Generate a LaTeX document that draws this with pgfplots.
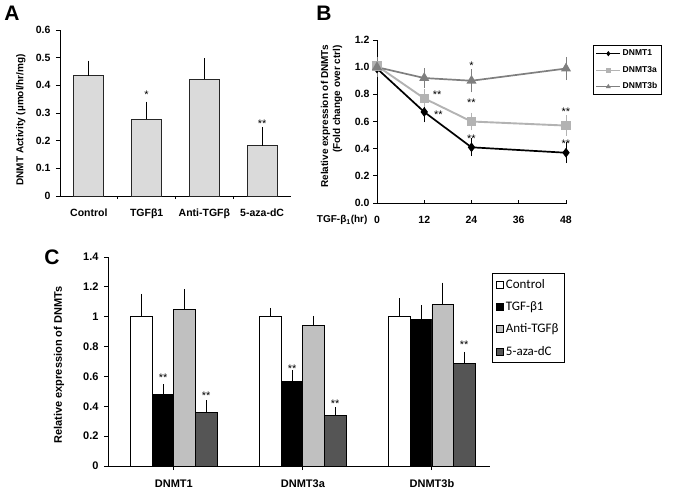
\documentclass[border=0pt]{standalone}
\usepackage{pgfplots}
\pgfplotsset{compat=1.18}
\usepackage{fontspec}
\setmainfont{Liberation Sans}
\newfontfamily\carlito{Carlito}
\definecolor{barA}{HTML}{DADADA}
\definecolor{cLight}{HTML}{C0C0C0}
\definecolor{cDark}{HTML}{555555}
\definecolor{gA}{HTML}{B3B3B3}
\definecolor{gB}{HTML}{7F7F7F}
\newcommand\fs[1]{\fontsize{#1}{#1}\selectfont}
\pgfplotsset{
 common/.style={scale only axis, anchor=south west,
   axis x line*=bottom, axis y line*=left,
   axis line style={line width=0.9pt,-},
   tick style={line width=0.9pt, black},
   major tick length=4pt, tick align=outside,
   /pgf/number format/assume math mode=true,
   tick label style={font=\fs{10.5}\bfseries},
   ylabel style={font=\fs{10}\bfseries, anchor=center},
   clip=false},
}
\begin{document}
\begin{tikzpicture}
\path[use as bounding box] (0pt,0pt) rectangle (675pt,-492pt);
% ---------------- Panel A
\begin{axis}[common, at={(60pt,-196pt)}, width=231pt, height=166pt,
  xmin=-0.5, xmax=3.5, ymin=0, ymax=0.6,
  ytick={0,0.1,0.2,0.3,0.4,0.5,0.6},
  xtick={0,1,2,3}, xticklabels={Control,TGFβ1,Anti-TGFβ,5-aza-dC},
  major x tick style={draw=none},
  minor xtick={0.5,1.5,2.5}, minor tick length=3pt,
  xticklabel style={yshift=-5pt},
  yticklabel style={xshift=-2pt},
  ylabel={DNMT Activity (µmol/hr/mg)},
  ylabel style={at={(axis description cs:-0.17,0.458)}},
  ybar, bar width=0.52,
  every axis plot/.append style={error bars/y dir=plus, error bars/y explicit,
     error bars/error bar style={line width=0.8pt, black},
     error bars/error mark options={mark size=4pt, line width=0.8pt, black}}]
\addplot[fill=barA, draw=black!85, line width=0.8pt] coordinates {
 (0,0.435) +- (0,0.040)
 (1,0.277) +- (0,0.050)
 (2,0.422) +- (0,0.061)
 (3,0.182) +- (0,0.053)};
\node[font=\fs{11}] at (axis cs:1,0.365) {*};
\node[font=\fs{11}] at (axis cs:3,0.262) {**};
\end{axis}
% ---------------- Panel B
\begin{axis}[common, at={(377pt,-203pt)}, width=189pt, height=163pt,
  xmin=0, xmax=48, ymin=0, ymax=1.2,
  xtick={0,12,24,36,48}, ytick={0,0.2,0.4,0.6,0.8,1.0,1.2},
  yticklabel style={/pgf/number format/fixed, /pgf/number format/fixed zerofill, /pgf/number format/precision=1},
  major x tick style={yshift=3pt}, xticklabel style={yshift=-6pt},
  ylabel={Relative expression of DNMTs\\(Fold change over ctrl)},
  ylabel style={align=right, font=\fontsize{10}{12}\selectfont\bfseries, at={(axis description cs:-0.24,0.531)}},
  legend style={at={(1,0.969)}, xshift=27pt, anchor=north west, draw=black, line width=0.9pt,
     font=\fs{8.5}\bfseries, inner sep=2.5pt, row sep=5pt, cells={anchor=west}},
  legend image code/.code={\draw[mark repeat=2,mark phase=2,#1] plot coordinates {(0pt,0pt) (12pt,0pt) (24pt,0pt)};},
  legend image post style={mark size=2pt, line width=0.8pt},
  every axis plot/.append style={error bars/y dir=both, error bars/y explicit,
     error bars/error bar style={line width=0.9pt},
     error bars/error mark options={mark size=3.5pt, line width=0.9pt}}]
\addplot[black, line width=1.7pt, mark=diamond*, mark size=3.5pt] coordinates {
 (0,0.99) +- (0,0.04) (12,0.67) +- (0,0.05) (24,0.41) +- (0,0.04) (48,0.37) +- (0,0.05)};
\addlegendentry{DNMT1}
\addplot[gA, line width=1.9pt, mark=square*, mark size=3.8pt] coordinates {
 (0,1.01) +- (0,0.04) (12,0.77) +- (0,0.04) (24,0.60) +- (0,0.04) (48,0.57) +- (0,0.05)};
\addlegendentry{DNMT3a}
\addplot[gB, line width=1.7pt, mark=triangle*, mark size=4.2pt] coordinates {
 (0,1.00) +- (0,0.05) (12,0.92) +- (0,0.045) (24,0.90) +- (0,0.06) (48,0.99) +- (0,0.06)};
\addlegendentry{DNMT3b}
\node[font=\fs{11}] at (axis cs:15.3,0.80) {**};
\node[font=\fs{11}] at (axis cs:15.6,0.65) {**};
\node[font=\fs{11}] at (axis cs:24,1.01) {*};
\node[font=\fs{11}] at (axis cs:24,0.74) {**};
\node[font=\fs{11}] at (axis cs:24,0.47) {**};
\node[font=\fs{11}] at (axis cs:48,0.67) {**};
\node[font=\fs{11}] at (axis cs:48,0.44) {**};
\end{axis}
\node[anchor=east, font=\fs{10}\bfseries] at (371pt,-220pt) {TGF-β\textsubscript{1}(hr)};
% ---------------- Panel C
\begin{axis}[common, at={(108pt,-466pt)}, width=382pt, height=209pt,
  xmin=-0.51, xmax=2.45, ymin=0, ymax=1.4,
  ytick={0,0.2,0.4,0.6,0.8,1,1.2,1.4},
  xtick={0,1,2}, xticklabels={DNMT1,DNMT3a,DNMT3b},
  tick label style={font=\fs{11}\bfseries},
  xticklabel style={yshift=-6pt},
  yticklabel style={xshift=-2pt},
  ylabel={Relative expression of DNMTs},
  ylabel style={font=\fs{11}\bfseries, at={(axis description cs:-0.128,0.483)}},
  ybar=0pt, bar width=0.167,
  legend style={at={(1.005,0.923)}, anchor=north west, draw=black, line width=0.9pt,
     font=\carlito\fs{13}, inner xsep=4pt, inner ysep=3.5pt, row sep=8pt, cells={anchor=west}},
  legend image code/.code={\draw[#1, draw=black, line width=0.6pt] (0pt,-3.5pt) rectangle (7pt,3.5pt);},
  every axis plot/.append style={error bars/y dir=plus, error bars/y explicit,
     error bars/error bar style={line width=0.8pt, black},
     error bars/error mark options={mark size=3.5pt, line width=0.8pt, black}}]
\addplot[fill=white, draw=black, line width=0.8pt] coordinates {
 (0,1.000) +- (0,0.130) (1,1.000) +- (0,0.036) (2,1.000) +- (0,0.100)};
\addlegendentry{Control}
\addplot[fill=black, draw=black, line width=0.8pt] coordinates {
 (0,0.478) +- (0,0.045) (1,0.569) +- (0,0.050) (2,0.982) +- (0,0.070)};
\addlegendentry{TGF-β1}
\addplot[fill=cLight, draw=black, line width=0.8pt] coordinates {
 (0,1.049) +- (0,0.110) (1,0.942) +- (0,0.040) (2,1.080) +- (0,0.125)};
\addlegendentry{Anti-TGFβ}
\addplot[fill=cDark, draw=black, line width=0.8pt] coordinates {
 (0,0.357) +- (0,0.060) (1,0.339) +- (0,0.032) (2,0.685) +- (0,0.056)};
\addlegendentry{5-aza-dC}
\node[font=\fs{11}] at (axis cs:-0.0835,0.59) {**};
\node[font=\fs{11}] at (axis cs:0.25,0.47) {**};
\node[font=\fs{11}] at (axis cs:0.9165,0.65) {**};
\node[font=\fs{11}] at (axis cs:1.25,0.415) {**};
\node[font=\fs{11}] at (axis cs:2.25,0.81) {**};
\end{axis}
% ---------------- panel letters
\node[font=\fs{21}\bfseries] at (12pt,-13pt) {A};
\node[font=\fs{21}\bfseries] at (324pt,-13pt) {B};
\node[font=\fs{21}\bfseries] at (52pt,-257pt) {C};
\end{tikzpicture}
\end{document}
